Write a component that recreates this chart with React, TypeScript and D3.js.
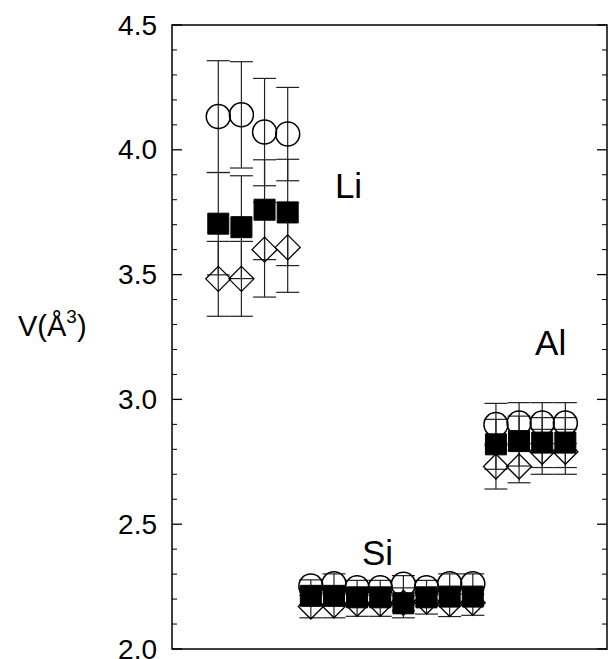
import React from "react";
import * as d3 from "d3";

// x index of each measurement (Li: 1-4, Si: 5-12, Al: 13-16)
const liIdx = [1, 2, 3, 4];
const siIdx = [5, 6, 7, 8, 9, 10, 11, 12];
const alIdx = [13, 14, 15, 16];

const liCircle = [4.133, 4.14, 4.071, 4.063];
const liSquare = [3.704, 3.69, 3.76, 3.749];
const liDiamond = [3.483, 3.483, 3.6, 3.609];
const liCircleErr = [0.224, 0.213, 0.215, 0.187];
const liSquareErr = [0.205, 0.206, 0.2, 0.213];
const liDiamondErr = [0.15, 0.15, 0.19, 0.18];

const siCircle = [2.252, 2.261, 2.245, 2.245, 2.259, 2.245, 2.261, 2.261];
const siSquare = [2.213, 2.213, 2.207, 2.207, 2.183, 2.207, 2.21, 2.21];
const siDiamond = [2.17, 2.175, 2.181, 2.181, 2.185, 2.19, 2.18, 2.185];
const siCircleErr = [0.025, 0.04, 0.03, 0.03, 0.035, 0.03, 0.04, 0.04];
const siSquareErr = [0.035, 0.035, 0.035, 0.035, 0.03, 0.035, 0.035, 0.035];
const siDiamondErr = [0.045, 0.05, 0.05, 0.05, 0.06, 0.05, 0.05, 0.05];

const alCircle = [2.899, 2.905, 2.905, 2.905];
const alSquare = [2.82, 2.833, 2.827, 2.827];
const alDiamond = [2.731, 2.731, 2.79, 2.79];
const alCircleErr = [0.085, 0.082, 0.082, 0.082];
const alSquareErr = [0.1, 0.1, 0.1, 0.1];
const alDiamondErr = [0.09, 0.065, 0.09, 0.09];

const yTicks = [2.0, 2.5, 3.0, 3.5, 4.0, 4.5];
const yTickLabels = ["2.0", "2.5", "3.0", "3.5", "4.0", "4.5"];

const groupLabels = [
  { text: "Li", x: 6.04, y: 3.807 },
  { text: "Si", x: 7.21, y: 2.337 },
  { text: "Al", x: 14.69, y: 3.178 },
];

type Pt = { i: number; v: number; e: number; shape: string };

function build(idx: number[], vals: number[], errs: number[], shape: string): Pt[] {
  return idx.map((i, k) => ({ i, v: vals[k], e: errs[k], shape }));
}

const points: Pt[] = [
  ...build(liIdx, liCircle, liCircleErr, "circle"),
  ...build(liIdx, liSquare, liSquareErr, "square"),
  ...build(liIdx, liDiamond, liDiamondErr, "diamond"),
  ...build(siIdx, siCircle, siCircleErr, "circle"),
  ...build(siIdx, siSquare, siSquareErr, "square"),
  ...build(siIdx, siDiamond, siDiamondErr, "diamond"),
  ...build(alIdx, alCircle, alCircleErr, "circle"),
  ...build(alIdx, alSquare, alSquareErr, "square"),
  ...build(alIdx, alDiamond, alDiamondErr, "diamond"),
];

const W = 609;
const H = 659;
const left = 172;
const right = 607;
const top = 25;
const bottom = 649;

export default function App() {
  const x = d3.scaleLinear().domain([-1, 17.8]).range([left, right]);
  const y = d3.scaleLinear().domain([2.0, 4.5]).range([bottom, top]);
  const minor = d3.range(20, 46).map((d) => d / 10).filter((d) => Math.abs(d * 2 - Math.round(d * 2)) > 1e-6);
  const font = "'Liberation Sans', Arial, Helvetica, sans-serif";
  const capW = 11.5;
  const circleSym = d3.symbol().type(d3.symbolCircle).size(Math.PI * 12 * 12);
  const squareSym = d3.symbol().type(d3.symbolSquare).size(21 * 21);
  const diamondPath = (r: number) => `M0,${-r}L${r},0L0,${r}L${-r},0Z`;

  return (
    <svg
      width={W}
      height={H}
      style={{ position: "absolute", left: 0, top: 0, background: "#fff" }}
    >
      <rect x={left} y={top} width={right - left} height={bottom - top} fill="none" stroke="#000" strokeWidth={1.5} />
      {yTicks.map((t, k) => (
        <g key={"t" + k}>
          <line x1={left} x2={left + 10} y1={y(t)} y2={y(t)} stroke="#000" strokeWidth={1.3} />
          <line x1={right} x2={right - 10} y1={y(t)} y2={y(t)} stroke="#000" strokeWidth={1.3} />
          <text
            x={157}
            y={y(t)}
            textAnchor="end"
            dominantBaseline="central"
            fontFamily={font}
            fontSize={28}
            fill="#000"
          >
            {yTickLabels[k]}
          </text>
        </g>
      ))}
      {minor.map((t, k) => (
        <g key={"m" + k}>
          <line x1={left} x2={left + 5} y1={y(t)} y2={y(t)} stroke="#000" strokeWidth={1} />
          <line x1={right} x2={right - 5} y1={y(t)} y2={y(t)} stroke="#000" strokeWidth={1} />
        </g>
      ))}
      <text x={18} y={336} fontFamily={font} fontSize={29} fill="#000">
        V(Å<tspan dy={-13} fontSize={19}>3</tspan>
        <tspan dy={13}>)</tspan>
      </text>
      {groupLabels.map((g) => (
        <text key={g.text} x={x(g.x)} y={y(g.y)} fontFamily={font} fontSize={35} fill="#000">
          {g.text}
        </text>
      ))}
      {points.map((p, k) => (
        <g key={"e" + k} stroke="#222" strokeWidth={1.2}>
          <line x1={x(p.i)} x2={x(p.i)} y1={y(p.v + p.e)} y2={y(p.v - p.e)} />
          <line x1={x(p.i) - capW} x2={x(p.i) + capW} y1={y(p.v + p.e)} y2={y(p.v + p.e)} />
          <line x1={x(p.i) - capW} x2={x(p.i) + capW} y1={y(p.v - p.e)} y2={y(p.v - p.e)} />
        </g>
      ))}
      {points.map((p, k) => {
        const tr = `translate(${x(p.i)},${y(p.v)})`;
        if (p.shape === "circle")
          return <path key={"p" + k} transform={tr} d={circleSym() || ""} fill="none" stroke="#000" strokeWidth={1.5} />;
        if (p.shape === "square")
          return <path key={"p" + k} transform={tr} d={squareSym() || ""} fill="#000" stroke="#000" strokeWidth={1} />;
        return <path key={"p" + k} transform={tr} d={diamondPath(12.5)} fill="none" stroke="#000" strokeWidth={1.3} />;
      })}
    </svg>
  );
}
